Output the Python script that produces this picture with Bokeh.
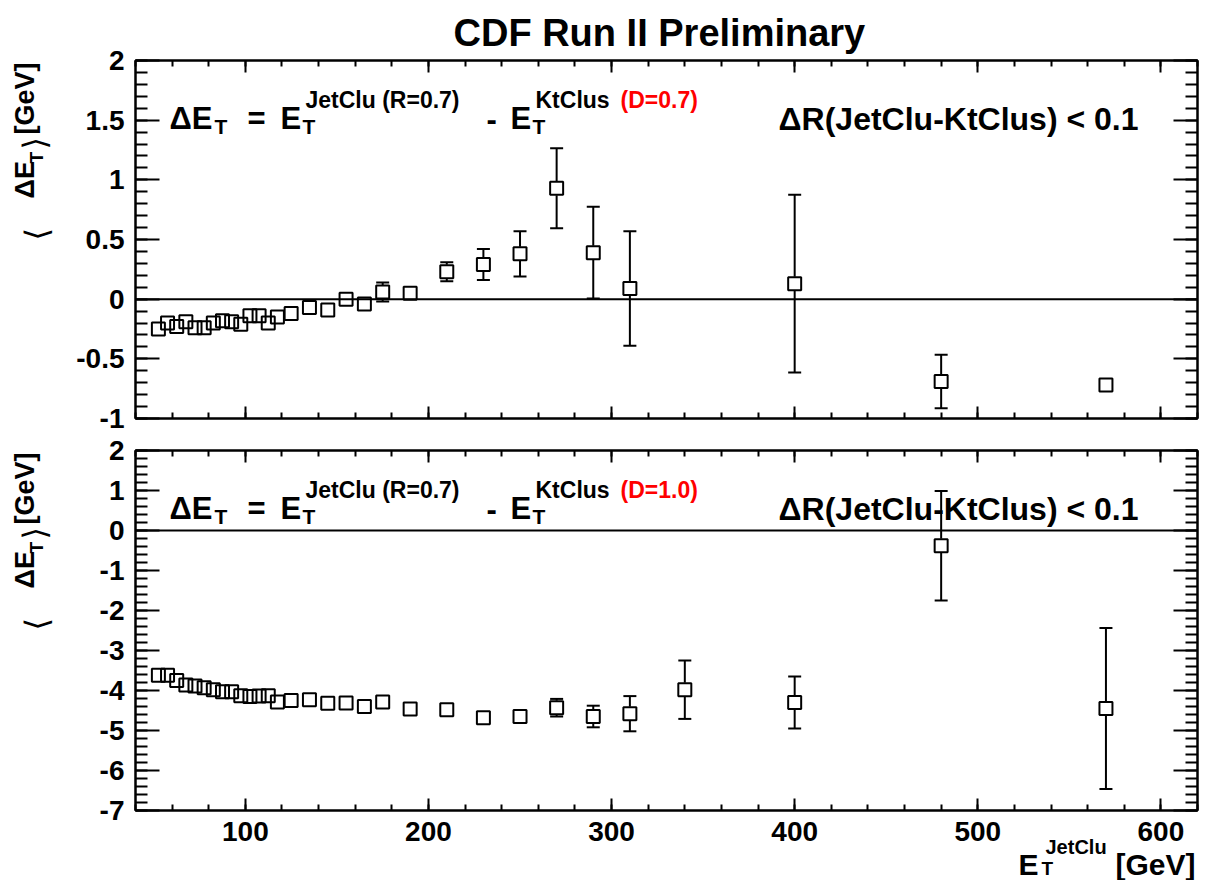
import numpy as np
from bokeh.plotting import figure
from bokeh.models import (Label, Span, FixedTicker, LinearAxis,
                          CustomJSTickFormatter, Range1d, Title)
from bokeh.layouts import column, row
from bokeh.embed import file_html
from bokeh.resources import INLINE

# ---------------- data ----------------
title_text = "CDF Run II Preliminary"

x_top = [52.5, 57.5, 62.5, 67.5, 72.5, 77.5, 82.5, 87.5, 92.5, 97.5,
         102.5, 107.5, 112.5, 117.5, 125, 135, 145, 155, 165, 175,
         190, 210, 230, 250, 270, 290, 310, 400, 480, 570]
y_top = [-0.25, -0.20, -0.23, -0.19, -0.24, -0.24, -0.20, -0.18, -0.19, -0.21,
         -0.14, -0.14, -0.20, -0.15, -0.12, -0.07, -0.09, 0.00, -0.04, 0.06,
         0.05, 0.23, 0.29, 0.38, 0.93, 0.39, 0.09, 0.13, -0.69, -0.72]
e_top = [0.02, 0.02, 0.02, 0.02, 0.02, 0.02, 0.02, 0.02, 0.02, 0.02,
         0.02, 0.02, 0.03, 0.03, 0.03, 0.03, 0.03, 0.04, 0.04, 0.08,
         0.05, 0.08, 0.13, 0.19, 0.335, 0.385, 0.48, 0.745, 0.225, 0.04]

x_bot = [52.5, 57.5, 62.5, 67.5, 72.5, 77.5, 82.5, 87.5, 92.5, 97.5,
         102.5, 107.5, 112.5, 117.5, 125, 135, 145, 155, 165, 175,
         190, 210, 230, 250, 270, 290, 310, 340, 400, 480, 570]
y_bot = [-3.62, -3.62, -3.75, -3.86, -3.89, -3.93, -3.98, -4.03, -4.03, -4.13,
         -4.15, -4.14, -4.13, -4.29, -4.25, -4.23, -4.32, -4.31, -4.40, -4.29,
         -4.46, -4.48, -4.68, -4.65, -4.43, -4.65, -4.58, -3.98, -4.30, -0.38, -4.45]
e_bot = [0.03, 0.03, 0.03, 0.03, 0.03, 0.03, 0.03, 0.03, 0.03, 0.03,
         0.04, 0.04, 0.04, 0.04, 0.05, 0.05, 0.05, 0.06, 0.06, 0.08,
         0.08, 0.09, 0.10, 0.12, 0.22, 0.27, 0.44, 0.73, 0.65, 1.37, 2.01]

x_ticks = [100, 200, 300, 400, 500, 600]
y_ticks_top = [-1, -0.5, 0, 0.5, 1, 1.5, 2]
y_ticks_bot = [-7, -6, -5, -4, -3, -2, -1, 0, 1, 2]

# ---------------- style ----------------
FONT = "Liberation Sans"
YLW = 60            # width of the y-label strip
FL, FW = 135, 1062  # global frame left, frame width
TOP_H = 434
BOT_H = 446


def style_axis(ax, tick_in, minor_in, labeled):
    ax.axis_line_width = 2
    ax.axis_line_color = "black"
    ax.major_tick_in = tick_in
    ax.major_tick_out = 0
    ax.minor_tick_in = minor_in
    ax.minor_tick_out = 0
    ax.major_tick_line_width = 2
    ax.minor_tick_line_width = 2
    if labeled:
        ax.formatter = CustomJSTickFormatter(code="return tick.toString()")
        ax.major_label_text_font = FONT
        ax.major_label_text_font_style = "bold"
        ax.major_label_text_font_size = "28px"
        ax.major_label_text_color = "black"
        ax.major_label_standoff = 11
    else:
        ax.formatter = CustomJSTickFormatter(code="return ''")
        ax.major_label_text_font_size = "1px"
        ax.major_label_standoff = 0


def make_fig(ylo, yhi, fh, btop, bbot, yticks, yminor, label_x):
    p = figure(frame_width=FW, frame_height=fh,
               x_range=Range1d(40, 620), y_range=Range1d(ylo, yhi),
               output_backend="svg", toolbar_location=None,
               x_axis_location=None, y_axis_location=None,
               min_border_left=FL - YLW, min_border_right=11,
               min_border_top=btop, min_border_bottom=bbot)
    p.grid.visible = False
    p.outline_line_color = "black"
    p.outline_line_width = 2
    p.background_fill_color = "white"
    p.border_fill_color = "white"
    xminor = list(np.arange(40, 621, 20))
    for loc in ["below", "above"]:
        ax = LinearAxis(ticker=FixedTicker(ticks=x_ticks, minor_ticks=xminor))
        style_axis(ax, 12, 6, label_x and loc == "below")
        p.add_layout(ax, loc)
    for loc in ["left", "right"]:
        ax = LinearAxis(ticker=FixedTicker(ticks=yticks, minor_ticks=yminor))
        style_axis(ax, 24, 12, loc == "left")
        p.add_layout(ax, loc)
    p.add_layout(Span(location=0, dimension="width", line_color="black", line_width=2))
    return p


def blank_fig(w, h, **kw):
    p = figure(width=w, height=h, x_range=Range1d(0, 1), y_range=Range1d(0, 1),
               output_backend="svg", toolbar_location=None, title=None,
               x_axis_location=None, y_axis_location=None,
               min_border_left=0, min_border_right=0,
               min_border_top=0, min_border_bottom=0, **kw)
    p.grid.visible = False
    p.outline_line_color = None
    p.background_fill_color = None
    p.border_fill_color = None
    return p


def draw_points(p, xs, ys, es, px_per_unit):
    xs = np.array(xs, float); ys = np.array(ys, float); es = np.array(es, float)
    h = 7.0 / px_per_unit
    m = es > h
    p.segment(x0=xs[m], y0=ys[m] + h, x1=xs[m], y1=ys[m] + es[m], line_color="black", line_width=2)
    p.segment(x0=xs[m], y0=ys[m] - h, x1=xs[m], y1=ys[m] - es[m], line_color="black", line_width=2)
    p.scatter(np.concatenate([xs[m], xs[m]]), np.concatenate([ys[m] + es[m], ys[m] - es[m]]),
              marker="dash", size=13, line_color="black", line_width=2)
    p.scatter(xs, ys, marker="square", size=13, fill_color=None,
              line_color="black", line_width=2)


def lab(p, fleft, ftop, fh, sx, sy, text, size, color="black", align="left",
        angle=0.0, font=FONT, style="bold", baseline="alphabetic"):
    """Place text at global pixel (sx, sy); frame of p has global left/top fleft/ftop."""
    p.add_layout(Label(x=sx - fleft, y=fh - (sy - ftop), x_units="screen", y_units="screen",
                       text=text, text_font=font, text_font_style=style,
                       text_font_size=f"{size}px", text_color=color,
                       text_align=align, text_baseline=baseline, angle=angle))


def equation(p, ftop, fh, dy, dlabel):
    b = 118 + dy
    s = 99 + dy
    L = lambda *a, **k: lab(p, FL, ftop, fh, *a, **k)
    L(169, b, "\u0394E", 31)
    L(214, b + 8, "T", 21)
    L(247, b, "=", 31)
    L(280, b, "E", 31)
    L(302, b + 8, "T", 21)
    L(305, s, "JetClu (R=0.7)", 23)
    L(486, b, "-", 31)
    L(510, b, "E", 31)
    L(532, b + 8, "T", 21)
    L(535, s, "KtClus", 23)
    L(620, s, dlabel, 23, color="#ff0000")
    L(1138, b, "\u0394R(JetClu-KtClus) < 0.1", 32, align="right")


def ylabel(p, ftop, fh):
    # the strip's frame is aligned with the panel frame (global top ftop, height fh)
    a = np.pi / 2
    L = lambda *args, **k: lab(p, 0, ftop, fh, *args, angle=a, baseline="middle", **k)
    L(36, ftop + 180, "\u27e8", 32, font="DejaVu Sans", style="normal")
    L(24, ftop + 138, "\u0394E", 27)
    L(36, ftop + 103, "T", 19)
    L(34, ftop + 89, "\u27e9", 32, font="DejaVu Sans", style="normal")
    L(24, ftop + 74, "[GeV]", 27)


# ---------------- top panel ----------------
top = make_fig(-1, 2, 358, 60, 16, y_ticks_top,
               [round(v, 1) for v in np.arange(-1, 2.001, 0.1)], False)
draw_points(top, x_top, y_top, e_top, 358 / 3.0)
top.title = Title(text=title_text, align="left", offset=318,
                  text_font=FONT, text_font_style="bold", text_font_size="38px",
                  text_color="black", standoff=14)
equation(top, 60, 358, 0, "(D=0.7)")
ytop = blank_fig(YLW, TOP_H)
ylabel(ytop, 60, 358)

# ---------------- bottom panel ----------------
bot = make_fig(-7, 2, 360, 16, 70, y_ticks_bot,
               [round(v, 1) for v in np.arange(-7, 2.001, 0.2)], True)
draw_points(bot, x_bot, y_bot, e_bot, 360 / 9.0)
equation(bot, 450, 360, 390, "(D=1.0)")
ybot = blank_fig(YLW, BOT_H)
ylabel(ybot, 450, 360)

# ---------------- x-axis title strip (overlaid on the bottom border) ----------------
SH = 56
xstrip = blank_fig(1208, SH, margin=(-SH, 0, 0, 0))
XL = lambda *a, **k: lab(xstrip, 0, 880 - SH, SH, *a, **k)
XL(1018, 864, "E", 30)
XL(1041, 868, "T", 19)
XL(1045, 846, "JetClu", 20)
XL(1195, 864, "[GeV]", 30, align="right")

layout = column(row(ytop, top, spacing=0), row(ybot, bot, spacing=0), xstrip, spacing=0)
open("out.html", "w").write(file_html(layout, INLINE))
